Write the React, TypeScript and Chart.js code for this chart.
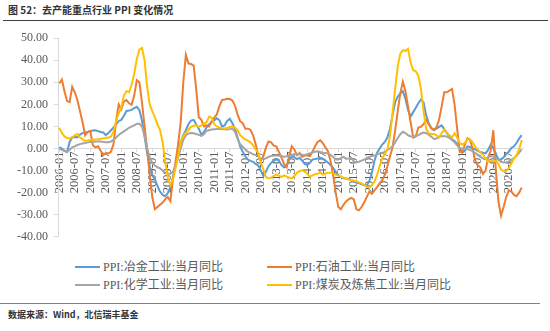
import React, { useEffect, useRef } from 'react';
import { Chart, registerables } from 'chart.js';

Chart.register(...registerables);

const START_YEAR = 2006;
const END_YEAR = 2020;
const monthLabels: string[] = [];
for (let y = START_YEAR; y <= END_YEAR; y++) {
  for (let m = 1; m <= 12; m++) monthLabels.push(`${y}-${String(m).padStart(2, '0')}`);
}

const yTicks = [50, 40, 30, 20, 10, 0, -10, -20, -30, -40];

const seriesNames = [
  'PPI:冶金工业:当月同比',
  'PPI:石油工业:当月同比',
  'PPI:化学工业:当月同比',
  'PPI:煤炭及炼焦工业:当月同比',
];
const seriesColors = ['#5B9BD5', '#ED7D31', '#A5A5A5', '#FFC000'];

// 冶金工业
const metallurgy = [
  0.7, 0, -1, -1.6, 3, 5, 5.2, 5.1, 6.3, 7, 7.2, 7.5,
  7.9, 8.2, 8.3, 7.9, 7.5, 7.3, 6.1, 7, 8.3, 9.5, 11, 12.5,
  13, 14.9, 17, 17.2, 17.5, 18.3, 18.9, 17.5, 12.7, 5.4, -2, -8,
  -12, -14, -17, -19.5, -21, -21.6, -20.2, -17.5, -13, -7, -2, 3,
  6, 8.3, 11, 12.7, 13, 11, 9, 6.3, 7.5, 9.5, 11, 12,
  12.8, 13.7, 12.8, 10, 10.5, 12.5, 13.5, 11.5, 9, 5, 1, -1.5,
  -3.5, -5, -5.6, -6, -7, -7.7, -9.9, -12.5, -10.5, -8, -6.5, -5.6,
  -4.8, -5.5, -7.5, -8.5, -8, -5, -3.5, -4, -4.8, -4.2, -5.5, -7,
  -7.5, -6.5, -5, -4.7, -4.5, -4.2, -4.6, -5.5, -6.3, -7.5, -8.8, -10.5,
  -12, -13, -13.5, -13.6, -13.8, -14.2, -15, -15.4, -15.7, -16.2, -16.6, -16.8,
  -14.8, -11, -5.5, -2, 0, 1.8, 3, 5, 9, 15, 21, 23.5,
  25, 26, 22.5, 17.5, 14.5, 16.5, 18.5, 20.5, 22.2, 21, 15, 11.5,
  9.3, 8.3, 9, 9.8, 10.5, 8.8, 7, 5.5, 4.2, 3.4, 2.2, 0,
  -1.8, -1, 1, 0.7, 0, -0.4, -1, -1.6, -1.9, -2.2, -0.6, 1.8,
  0.3, -2.6, -4.8, -5, -4, -2.5, -1.5, 0.3, 1, 2.5, 4.5, 6.1,
];

// 石油工业
const petroleum = [
  29.5, 31.3, 26, 21.5, 21, 28, 25.5, 22, 17, 12, 6, 7.5,
  8, 1.5, 0.5, 1, -1, -3, -2, -2.2, -1.5, 2, 12.7, 20,
  17.8, 21.2, 22, 20.5, 19.8, 24, 31, 30, 21, 10, 0, -12,
  -22, -27.5, -26.5, -25.5, -24.5, -23, -22, -23.8, -14, -6, 2, 12,
  30, 42.5, 38.5, 38.3, 37.6, 27, 14.2, 13, 10, 10.5, 10, 12.5,
  14, 15.5, 19.3, 22, 22.2, 22.5, 22.4, 21.8, 19.5, 15.5, 12.4, 11.5,
  9, 9, 8.5, 6, 2, -3, -5.6, -3.5, 0.5, 3.2, 2.8, 1.3,
  1, -1.5, -4.1, -7, -8.5, -3, 1, -0.4, -3, -2, -3.8, -3,
  -3.2, -3.4, -1.5, 1, 3, 3.7, 2.5, 0.5, -1.2, -5.6, -12, -20,
  -26.5, -27.5, -25.5, -24, -23, -22.4, -23.1, -27.5, -28, -26.5, -24.5, -22,
  -19.5, -20.5, -19, -17.5, -15.8, -14.5, -12, -8, -3.5, 0.5, 8, 17,
  25, 30.3, 26, 19, 12, 5, 5.5, 9.5, 9.8, 11, 13, 11,
  9.2, 8.5, 9.5, 13, 19, 25.5, 25.5, 26.2, 27, 20, 9, -1.5,
  -1.6, 1.8, 4.7, 3.9, -0.1, -5.5, -7.7, -8.5, -11.5, -10, -4, -1,
  8.3, -10, -24, -30.4, -26.5, -22, -19, -19.4, -21, -21.6, -20, -17.7,
];

// 化学工业
const chemical = [
  0, -0.6, -1.2, -1.6, -0.5, 0.5, 1, 1.6, 2, 2.3, 2.5, 2.8,
  3, 3.1, 3.2, 3.2, 3.2, 3, 2.9, 2.8, 3.2, 3.9, 5, 6.1,
  7, 7.8, 8.6, 9.4, 10, 10.5, 11.2, 11.2, 10, 6, 0, -4,
  -6.5, -7.7, -8.5, -9, -10, -11, -11.3, -11.4, -10.5, -8, -4, 0,
  4, 6, 6.8, 7, 6.9, 6.6, 6.2, 5.7, 6.5, 8, 8.3, 8.6,
  8.7, 8.8, 9, 8.8, 8.7, 8.6, 8.8, 9.1, 7.5, 4.5, 2, 0.8,
  -0.4, -1.4, -2, -2.5, -3, -3.4, -4.5, -4.8, -4.4, -3.8, -3.4, -3.2,
  -3.1, -3.2, -3.4, -3.7, -3.5, -3.1, -2.8, -2.6, -2.6, -2.6, -2.8, -2.9,
  -2.6, -2.2, -1.8, -1.5, -1.2, -1.5, -1.9, -2, -2.2, -2.8, -3.8, -5,
  -5, -4.3, -3.8, -4.6, -4.5, -4.2, -5.8, -6.3, -6, -5.5, -5, -4.4,
  -3.8, -3.4, -3.2, -2.6, -2.3, -2, -1.5, -0.7, 0, 1, 2.8, 4.8,
  6.5, 7.6, 7, 6, 5.5, 5.5, 5.7, 6.1, 6.8, 7.2, 7, 6.3,
  5.3, 4.3, 4.5, 5.2, 5.6, 5.7, 5.4, 4.8, 3.9, 2.8, 1.5, 0.3,
  -0.1, -0.1, -0.3, -0.6, -1.2, -2, -3, -3.8, -4.5, -4.8, -4.1, -3.4,
  -3.6, -4.3, -5.2, -6, -6.3, -6.2, -5.8, -5.1, -4.3, -3.4, -1.9, -0.4,
];

// 煤炭及炼焦工业
const coal = [
  9.4, 7, 5.5, 4.8, 4.7, 5, 6, 6.6, 5, 4.2, 3.5, 3.6,
  3.9, 4, 4.1, 4.2, 4.4, 4.6, 4.8, 5, 5.5, 7.6, 12.5, 16,
  18.6, 24, 26, 25.5, 28.8, 33.9, 40.5, 44.8, 45.6, 40, 28, 20,
  17, 14.2, 11, 8.3, 3, -6, -13, -16.5, -14, -9, -3, 3,
  5.4, 7.2, 8.5, 9.8, 10.3, 10.5, 9.8, 10.5, 11, 12, 14.5, 13.9,
  11, 10, 9.6, 9.3, 9.1, 9.3, 9.8, 10.1, 9.5, 8.3, 6.1, 5,
  4.2, 3.6, 2.8, 1.5, -0.5, -1.9, -6.3, -9.5, -13, -13.5, -13.3, -12.4,
  -11.8, -12.3, -12.9, -12.2, -12.6, -13.2, -13.5, -12.5, -11, -10.2, -9.9, -10.4,
  -11.4, -12.9, -12.2, -11.6, -11.4, -10.8, -11.8, -11.3, -11, -11, -11.3, -11.8,
  -12.3, -12.8, -13.2, -13.6, -14, -14.3, -14.6, -14.8, -15.3, -15.8, -16.6, -17.3,
  -17.7, -16.5, -15, -12, -8, -4.5, -2.5, -0.5, 5.5, 16, 27, 37,
  43, 44.6, 44.2, 45.2, 39, 35.5, 35, 33, 27, 17, 9, 6.8,
  6.6, 6.6, 6, 5.1, 6.9, 8.6, 7.2, 6, 5, 6.9, 5, 2.5,
  1.8, 2.5, 4.2, 4.2, 2.8, 0.8, -0.5, -1.8, -2.8, -4.5, -6, -5.8,
  -5.6, -5.6, -7, -9.5, -10.3, -10.2, -8.9, -6.8, -4.5, -3, -0.4, 3.9,
];

const seriesData = [metallurgy, petroleum, chemical, coal];
const drawOrder = [4, 3, 2, 1];

const AXIS_COLOR = '#D9D9D9';
const TEXT_COLOR = '#595959';
const SERIF = '"Liberation Serif", "Times New Roman", serif';

export default function App() {
  const canvasRef = useRef<HTMLCanvasElement | null>(null);

  useEffect(() => {
    if (!canvasRef.current) return;
    const chart = new Chart(canvasRef.current, {
      type: 'line',
      data: {
        labels: monthLabels,
        datasets: seriesData.map((d, i) => ({
          label: seriesNames[i],
          data: d,
          borderColor: seriesColors[i],
          backgroundColor: seriesColors[i],
          borderWidth: 2,
          pointRadius: 0,
          tension: 0,
          fill: false,
          order: drawOrder[i],
        })),
      },
      options: {
        responsive: false,
        animation: false,
        layout: { padding: { left: 0, right: 27, top: 10, bottom: 8 } },
        plugins: {
          legend: { display: false },
          tooltip: { enabled: false },
          title: { display: false },
        },
        scales: {
          x: {
            type: 'category',
            position: { y: 0 } as any,
            offset: true,
            grid: {
              display: true,
              drawOnChartArea: false,
              drawTicks: true,
              tickLength: 3,
              color: (ctx: any) => (ctx.index % 6 === 0 ? AXIS_COLOR : 'rgba(0,0,0,0)'),
            },
            border: { display: true, color: AXIS_COLOR, width: 1 },
            ticks: {
              autoSkip: false,
              minRotation: 90,
              maxRotation: 90,
              padding: 0,
              color: TEXT_COLOR,
              font: { family: SERIF, size: 12.5 },
              callback: (_v: any, i: number) => (i % 6 === 0 ? monthLabels[i] : ''),
            },
          },
          y: {
            type: 'linear',
            min: -40,
            max: 50,
            afterBuildTicks: (scale: any) => {
              scale.ticks = yTicks.slice().reverse().map((v) => ({ value: v }));
            },
            afterFit: (scale: any) => {
              scale.width = 58;
            },
            grid: {
              display: true,
              drawOnChartArea: false,
              drawTicks: true,
              tickLength: 4,
              color: AXIS_COLOR,
            },
            border: { display: true, color: AXIS_COLOR, width: 1 },
            ticks: {
              padding: 6,
              color: TEXT_COLOR,
              font: { family: SERIF, size: 12 },
              callback: (v: any) => Number(v).toFixed(2),
            },
          },
        },
      },
    });
    return () => chart.destroy();
  }, []);

  const legendItem = (i: number, left: number, top: number) => (
    <div
      key={i}
      style={{
        position: 'absolute',
        left,
        top,
        height: 16,
        display: 'flex',
        alignItems: 'center',
        whiteSpace: 'nowrap',
      }}
    >
      <span
        style={{
          display: 'inline-block',
          width: 25,
          height: 2,
          background: seriesColors[i],
          marginRight: 3,
        }}
      />
      <span
        style={{
          fontFamily: '"Liberation Serif", "Noto Sans CJK SC", serif',
          fontSize: 12,
          color: TEXT_COLOR,
          lineHeight: '16px',
        }}
      >
        {seriesNames[i]}
      </span>
    </div>
  );

  return (
    <div
      style={{
        position: 'absolute',
        left: 0,
        top: 0,
        width: 550,
        height: 331,
        background: '#ffffff',
        overflow: 'hidden',
      }}
    >
      <div
        style={{
          position: 'absolute',
          left: 8,
          top: 3,
          fontFamily: '"Noto Sans CJK SC", sans-serif',
          fontSize: 10,
          fontWeight: 700,
          color: '#333333',
          lineHeight: '14px',
          whiteSpace: 'nowrap',
        }}
      >
        图 52：去产能重点行业 PPI 变化情况
      </div>
      <div style={{ position: 'absolute', left: 3, top: 20, width: 545, height: 1, background: '#404040' }} />
      <canvas
        ref={canvasRef}
        width={550}
        height={225}
        style={{ position: 'absolute', left: 0, top: 25, width: 550, height: 225, display: 'block' }}
      />
      {legendItem(0, 75, 259)}
      {legendItem(1, 267, 259)}
      {legendItem(2, 75, 277)}
      {legendItem(3, 267, 277)}
      <div style={{ position: 'absolute', left: 0, top: 303, width: 540, height: 1, background: '#808080' }} />
      <div
        style={{
          position: 'absolute',
          left: 8,
          top: 308,
          fontFamily: '"Noto Sans CJK SC", sans-serif',
          fontSize: 9,
          fontWeight: 700,
          color: '#333333',
          lineHeight: '14px',
          whiteSpace: 'nowrap',
        }}
      >
        数据来源：Wind，北信瑞丰基金
      </div>
    </div>
  );
}
